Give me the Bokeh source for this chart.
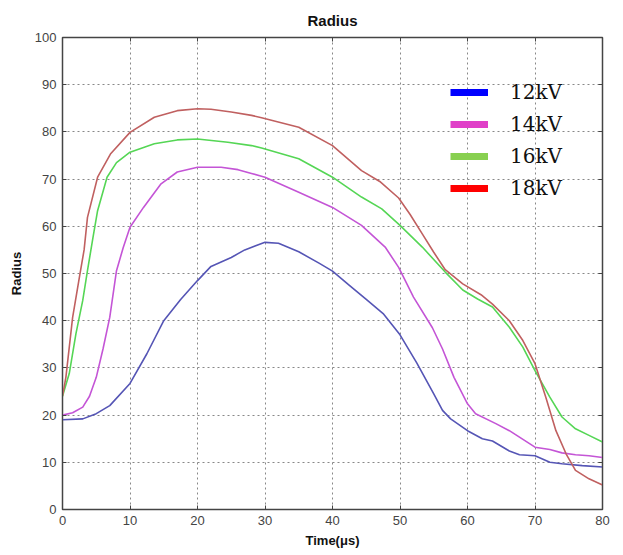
from bokeh.plotting import figure
from bokeh.models import Range1d, Legend, LegendItem, LinearAxis, FixedTicker
from bokeh.embed import file_html
from bokeh.resources import INLINE

t12 = [0, 3, 5, 7, 10, 12.5, 15, 17.5, 20, 22, 25, 27, 30, 32, 35, 38, 40, 42.5, 45, 47.5, 50, 52.5, 55, 56.3, 57.5, 60, 62.2, 63.7, 66.2, 67.7, 70, 72.2, 74, 77, 80]
r12 = [19, 19.2, 20.3, 22, 26.7, 33, 40, 44.5, 48.5, 51.5, 53.4, 55, 56.6, 56.4, 54.6, 52.2, 50.5, 47.5, 44.5, 41.5, 37, 31, 24.5, 21, 19.2, 16.7, 15, 14.5, 12.4, 11.6, 11.4, 10, 9.7, 9.3, 9.0]
t14 = [0, 1.5, 3, 4, 5, 6, 7, 8, 9, 10, 12, 14.6, 17, 20, 23.5, 26, 28, 30, 35, 40, 44.3, 47.8, 49.8, 52, 54.8, 56.3, 58, 60, 61.2, 64.2, 66.2, 70, 72.2, 74, 76, 78, 80]
r14 = [20, 20.5, 21.7, 24, 28, 34, 40.7, 50.6, 55.5, 59.8, 64, 69, 71.5, 72.5, 72.5, 72, 71.2, 70.4, 67.2, 64, 60.2, 55.6, 51.3, 45, 38.5, 34, 28, 22.4, 20.3, 18.2, 16.7, 13.2, 12.7, 12, 11.6, 11.4, 11.0]
t16 = [0, 1, 2, 3, 3.7, 4.5, 5.2, 6.6, 8, 10, 13.6, 17, 20, 24.5, 28, 29.5, 35, 40, 44.3, 47.3, 50, 53.3, 56.7, 59.3, 61.5, 63.7, 66.2, 68.2, 70, 72.2, 74, 76, 78, 80]
r16 = [24, 28.8, 37.3, 44.3, 50.6, 57.5, 63.3, 70.4, 73.5, 75.7, 77.5, 78.3, 78.5, 77.8, 77.1, 76.6, 74.3, 70.4, 66.2, 63.7, 60.2, 55.6, 50.3, 46.5, 44.6, 42.9, 38.6, 34.4, 29.4, 23.8, 19.6, 17.1, 15.7, 14.3]
t18 = [0, 0.5, 1.5, 2.5, 3.2, 3.7, 5.2, 7.1, 10, 13.6, 17, 20, 22, 25, 28, 29.5, 35, 40, 44.3, 47, 49.8, 51.5, 53.3, 55, 56.7, 59.3, 62, 63.7, 66.2, 68.2, 70, 71.6, 73.1, 74.6, 76, 78, 80]
r18 = [24, 28, 40.7, 49.2, 55, 61.9, 70.4, 75.3, 79.9, 83.1, 84.5, 84.9, 84.8, 84.2, 83.5, 83, 81, 77.1, 71.8, 69.5, 66, 62.5, 58.4, 54.5, 50.8, 47.8, 45.5, 43.5, 40, 35.8, 30.9, 23.8, 16.7, 11.8, 8.3, 6.5, 5.2]

labels = ["12kV", "14kV", "16kV", "18kV"]
line_colors = ["#5555b5", "#c455d6", "#55d655", "#c06060"]
legend_colors = ["#0000ff", "#e040c8", "#88d050", "#ff0000"]
x_ticks = [0, 10, 20, 30, 40, 50, 60, 70, 80]
y_ticks = [0, 10, 20, 30, 40, 50, 60, 70, 80, 90, 100]

p = figure(width=623, height=555, output_backend="svg", toolbar_location=None,
           x_range=Range1d(0, 80), y_range=Range1d(0, 100),
           min_border_left=62, min_border_right=21, min_border_top=37, min_border_bottom=46,
           title="Radius")
p.title.align = "center"
p.title.text_font = "Liberation Sans"
p.title.text_font_size = "15px"
p.title.text_font_style = "bold"
p.title.text_color = "#111111"
p.title.offset = 0
p.title.standoff = 18

series = [(t12, r12), (t14, r14), (t16, r16), (t18, r18)]
for (tx, ry), c in zip(series, line_colors):
    p.line(tx, ry, line_color=c, line_width=1.6, line_join="round")

items = []
for lab, c in zip(labels, legend_colors):
    r = p.line([float("nan")], [float("nan")], line_color=c, line_width=7)
    items.append(LegendItem(label=lab, renderers=[r]))
legend = Legend(items=items, location=(378, 299))
legend.background_fill_alpha = 0
legend.border_line_alpha = 0
legend.label_text_font = "DejaVu Serif"
legend.label_text_font_size = "20px"
legend.label_text_color = "#111111"
legend.glyph_width = 38
legend.glyph_height = 20
legend.label_height = 20
legend.spacing = 8
legend.label_standoff = 22
p.add_layout(legend, "center")

for ax in [p.xaxis[0], p.yaxis[0]]:
    ax.major_tick_in = 4
    ax.major_tick_out = 0
    ax.minor_tick_line_color = None
    ax.axis_line_color = "#444444"
    ax.major_tick_line_color = "#444444"
    ax.major_label_text_font = "Liberation Sans"
    ax.major_label_text_font_size = "13px"
    ax.major_label_text_color = "#444444"
    ax.axis_label_text_font = "Liberation Sans"
    ax.axis_label_text_font_size = "13px"
    ax.axis_label_text_font_style = "bold"
    ax.axis_label_text_color = "#111111"
p.xaxis[0].ticker = FixedTicker(ticks=x_ticks)
p.yaxis[0].ticker = FixedTicker(ticks=y_ticks)
p.xaxis[0].axis_label = "Time(\u03bcs)"
p.yaxis[0].axis_label = "Radius"
p.xaxis[0].major_label_standoff = 6
p.yaxis[0].major_label_standoff = 6
p.xaxis[0].axis_label_standoff = 5
p.yaxis[0].axis_label_standoff = 8

top = LinearAxis(ticker=FixedTicker(ticks=x_ticks), major_label_text_color=None,
                 major_tick_in=4, major_tick_out=0, minor_tick_line_color=None,
                 axis_line_color="#444444", major_tick_line_color="#444444")
right = LinearAxis(ticker=FixedTicker(ticks=y_ticks), major_label_text_color=None,
                   major_tick_in=4, major_tick_out=0, minor_tick_line_color=None,
                   axis_line_color="#444444", major_tick_line_color="#444444")
p.add_layout(top, "above")
p.add_layout(right, "right")

p.xgrid.ticker = FixedTicker(ticks=x_ticks)
p.ygrid.ticker = FixedTicker(ticks=y_ticks)
for g in [p.xgrid[0], p.ygrid[0]]:
    g.grid_line_color = "#888888"
    g.grid_line_dash = "2 3"
    g.grid_line_width = 1
p.outline_line_color = "#444444"
p.outline_line_width = 1.5

open("out.html", "w").write(file_html(p, INLINE))
